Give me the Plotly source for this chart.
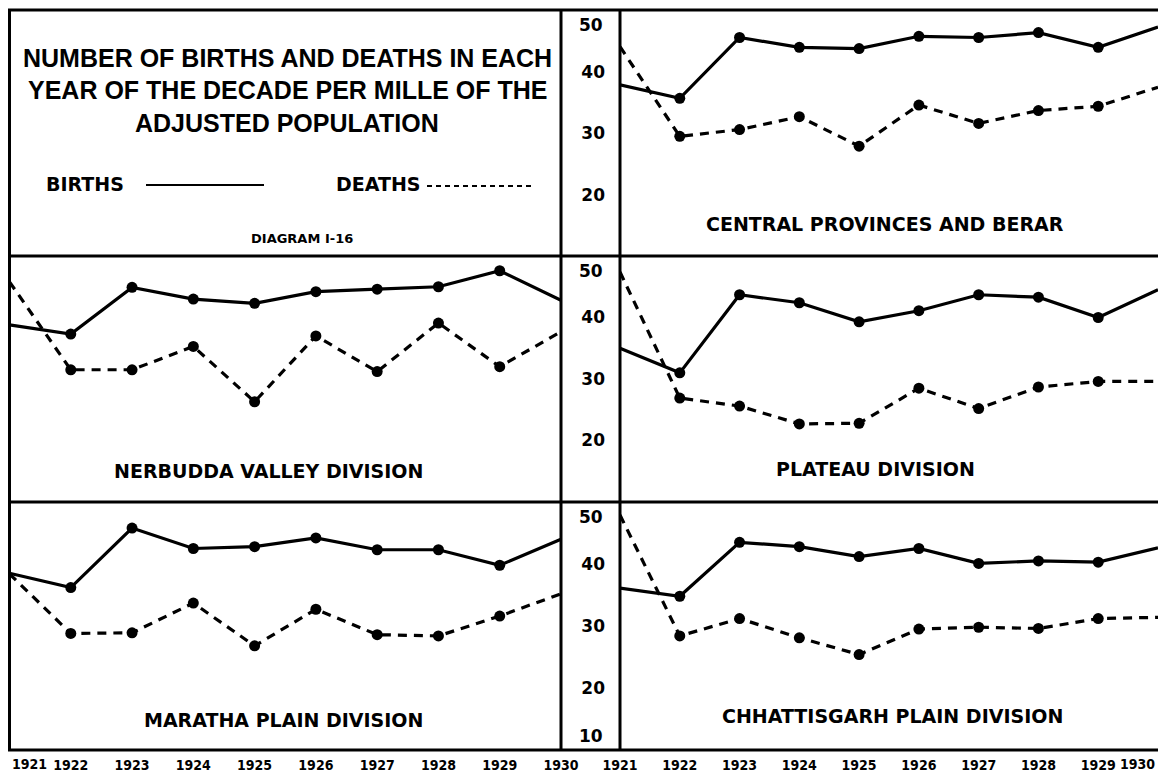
import plotly.graph_objects as go

OFF = 8  # page body margin of the browser (screen px -> figure px)
W, H = 1166 - 2 * OFF, 780 - 2 * OFF  # keep the figure inside the window

# ---------------- data (per mille of adjusted population) ----------------
years = [1921, 1922, 1923, 1924, 1925, 1926, 1927, 1928, 1929, 1930]
year_labels = ["1921", "1922", "1923", "1924", "1925", "1926", "1927", "1928", "1929", "1930"]
y_tick_values = [20, 30, 40]

cp_births = [37.9, 35.7, 45.6, 44.0, 43.8, 45.8, 45.6, 46.4, 44.0, 47.3]
cp_deaths = [44.1, 29.5, 30.6, 32.7, 27.9, 34.6, 31.6, 33.7, 34.4, 37.5]

nv_births = [38.8, 37.3, 44.9, 43.0, 42.3, 44.2, 44.6, 45.0, 47.6, 42.8]
nv_deaths = [45.8, 31.5, 31.5, 35.3, 26.3, 37.0, 31.2, 39.1, 32.0, 37.7]

pl_births = [35.0, 31.0, 43.7, 42.4, 39.3, 41.1, 43.7, 43.3, 40.0, 44.5]
pl_deaths = [47.4, 26.9, 25.6, 22.7, 22.8, 28.5, 25.2, 28.7, 29.6, 29.6]

mp_births = [38.5, 36.2, 45.8, 42.5, 42.8, 44.2, 42.3, 42.3, 39.8, 44.0]
mp_deaths = [38.4, 28.8, 28.9, 33.7, 26.8, 32.7, 28.6, 28.4, 31.6, 35.2]

ch_births = [36.1, 34.8, 43.5, 42.8, 41.2, 42.5, 40.1, 40.5, 40.3, 42.6]
ch_deaths = [47.9, 28.4, 31.2, 28.1, 25.4, 29.5, 29.8, 29.6, 31.2, 31.4]

title_lines = ["NUMBER OF BIRTHS AND DEATHS IN EACH",
               "YEAR OF THE DECADE PER MILLE OF THE",
               "ADJUSTED POPULATION"]

panels = [
    dict(ax="", births=cp_births, deaths=cp_deaths, label="CENTRAL PROVINCES AND BERAR"),
    dict(ax="2", births=nv_births, deaths=nv_deaths, label="NERBUDDA VALLEY DIVISION"),
    dict(ax="3", births=pl_births, deaths=pl_deaths, label="PLATEAU DIVISION"),
    dict(ax="4", births=mp_births, deaths=mp_deaths, label="MARATHA PLAIN DIVISION"),
    dict(ax="5", births=ch_births, deaths=ch_deaths, label="CHHATTISGARH PLAIN DIVISION"),
]


# ---------------- geometry helpers (arguments are screen px) ----------------
def px(x):
    return min(1.0, (x - OFF) / W)


def py(y):
    return max(0.0, 1 - (y - OFF) / H)


XL = [px(9.5), px(561)]
XR = [px(620), 1.0]
ROW = [[py(256), py(10.5)], [py(502), py(256)], [py(750), py(502)]]

# (x domain, y domain, is right column, is bottom row, label centre x, label y)
geom = {
    "": (XR, ROW[0], True, False, 885, 224),
    "2": (XL, ROW[1], False, False, 268, 471),
    "3": (XR, ROW[1], True, False, 875, 469),
    "4": (XL, ROW[2], False, True, 283, 720),
    "5": (XR, ROW[2], True, True, 892, 716),
}

BLACK = "#000000"
NARROW = "DejaVu Sans Condensed, Liberation Sans Narrow, Liberation Sans, sans-serif"
BOLD = "DejaVu Sans, Verdana, sans-serif"
YEAR_FONT = dict(family=NARROW, size=14, color=BLACK, weight="bold")
YEAR_LABEL_Y = 764

fig = go.Figure()
marker_sizes = [0] + [11] * (len(years) - 2) + [0]

annotations = []
layout_axes = {}

for p in panels:
    a = p["ax"]
    xd, yd, right, bottom, lx, ly = geom[a]
    xref = "x" + a
    yref = "y" + a
    fig.add_trace(go.Scatter(
        x=years, y=p["births"], mode="lines+markers", xaxis=xref, yaxis=yref,
        line=dict(color=BLACK, width=3.2),
        marker=dict(color=BLACK, size=marker_sizes, opacity=1, line=dict(width=0)),
        name="Births", showlegend=False, hoverinfo="skip"))
    fig.add_trace(go.Scatter(
        x=years, y=p["deaths"], mode="lines+markers", xaxis=xref, yaxis=yref,
        line=dict(color=BLACK, width=3.2, dash="9px,7px"),
        marker=dict(color=BLACK, size=marker_sizes, opacity=1, line=dict(width=0)),
        name="Deaths", showlegend=False, hoverinfo="skip"))

    xa = dict(domain=xd, anchor=yref, range=[years[0], years[-1]], automargin=False,
              showgrid=False, zeroline=False, showline=False, fixedrange=True,
              showticklabels=bottom, ticks="")
    if bottom:
        if right:
            # last year is written flush left of the panel's right edge
            tv, tt = years[:-1], year_labels[:-1]
            annotations.append(dict(xref=xref, x=years[-1], xanchor="right", xshift=-1,
                                    yref="paper", y=py(YEAR_LABEL_Y), yanchor="middle",
                                    text=year_labels[-1], showarrow=False, font=YEAR_FONT))
        else:
            # first year is written flush right of the panel's left edge
            tv, tt = years[1:], year_labels[1:]
            annotations.append(dict(xref=xref, x=years[0], xanchor="left",
                                    yref="paper", y=py(YEAR_LABEL_Y), yanchor="middle",
                                    text=year_labels[0], showarrow=False, font=YEAR_FONT))
        xa.update(tickmode="array", tickvals=tv, ticktext=tt,
                  ticklabeloverflow="allow", tickfont=YEAR_FONT, ticklabelstandoff=5)
    ya = dict(domain=yd, anchor=xref, range=[10, 50], showgrid=False, automargin=False,
              zeroline=False, showline=False, fixedrange=True, ticks="",
              showticklabels=right)
    if right:
        ya.update(tickmode="array", tickvals=y_tick_values,
                  tickfont=dict(family=BOLD, size=17, color=BLACK, weight="bold"),
                  ticklabelstandoff=14)
        annotations.append(dict(xref="paper", x=px(605), xanchor="right",
                                yref=yref, y=50, yanchor="top", yshift=-3,
                                text="50", showarrow=False,
                                font=dict(family=BOLD, size=17, color=BLACK, weight="bold")))
        if bottom:
            annotations.append(dict(xref="paper", x=px(605), xanchor="right",
                                    yref=yref, y=10, yanchor="bottom", yshift=2,
                                    text="10", showarrow=False,
                                    font=dict(family=BOLD, size=17, color=BLACK, weight="bold")))
    layout_axes["xaxis" + a] = xa
    layout_axes["yaxis" + a] = ya

    annotations.append(dict(xref="paper", yref="paper", x=px(lx), y=py(ly),
                            xanchor="center", yanchor="middle", text=p["label"],
                            showarrow=False,
                            font=dict(family=BOLD, size=19, color=BLACK, weight="bold")))

# ---------------- title panel ----------------
for txt, yy in zip(title_lines, [58, 90, 123]):
    annotations.append(dict(xref="paper", yref="paper", x=px(287), y=py(yy),
                            xanchor="center", yanchor="middle", text=txt, showarrow=False,
                            font=dict(family="Liberation Sans, Arial, sans-serif", size=25,
                                      color=BLACK, weight="bold")))
annotations.append(dict(xref="paper", yref="paper", x=px(44), y=py(184), xanchor="left",
                        yanchor="middle", text="BIRTHS", showarrow=False,
                        font=dict(family=BOLD, size=19, color=BLACK, weight="bold")))
annotations.append(dict(xref="paper", yref="paper", x=px(334), y=py(184), xanchor="left",
                        yanchor="middle", text="DEATHS", showarrow=False,
                        font=dict(family=BOLD, size=19, color=BLACK, weight="bold")))
annotations.append(dict(xref="paper", yref="paper", x=px(302), y=py(239), xanchor="center",
                        yanchor="middle", text="DIAGRAM I-16", showarrow=False,
                        font=dict(family=BOLD, size=13, color=BLACK, weight="bold")))

shapes = []
# legend keys
shapes.append(dict(type="line", xref="paper", yref="paper", x0=px(146), x1=px(264),
                   y0=py(185), y1=py(185), line=dict(color=BLACK, width=2)))
shapes.append(dict(type="line", xref="paper", yref="paper", x0=px(427), x1=px(533),
                   y0=py(186), y1=py(186), line=dict(color=BLACK, width=2, dash="5px,4px")))

# frame lines
for yy in [10, 256, 502, 750]:
    shapes.append(dict(type="line", xref="paper", yref="paper", x0=px(8), x1=1.0,
                       y0=py(yy), y1=py(yy), line=dict(color=BLACK, width=3)))
for xx in [9.5, 561, 620]:
    shapes.append(dict(type="line", xref="paper", yref="paper", x0=px(xx), x1=px(xx),
                       y0=py(10), y1=py(750), line=dict(color=BLACK, width=3)))

fig.update_layout(
    template="none",
    width=W, height=H, margin=dict(l=0, r=0, t=0, b=0, autoexpand=False),
    paper_bgcolor="white", plot_bgcolor="white",
    showlegend=False, annotations=annotations, shapes=shapes,
    **layout_axes,
)

fig.write_html("out.html")
